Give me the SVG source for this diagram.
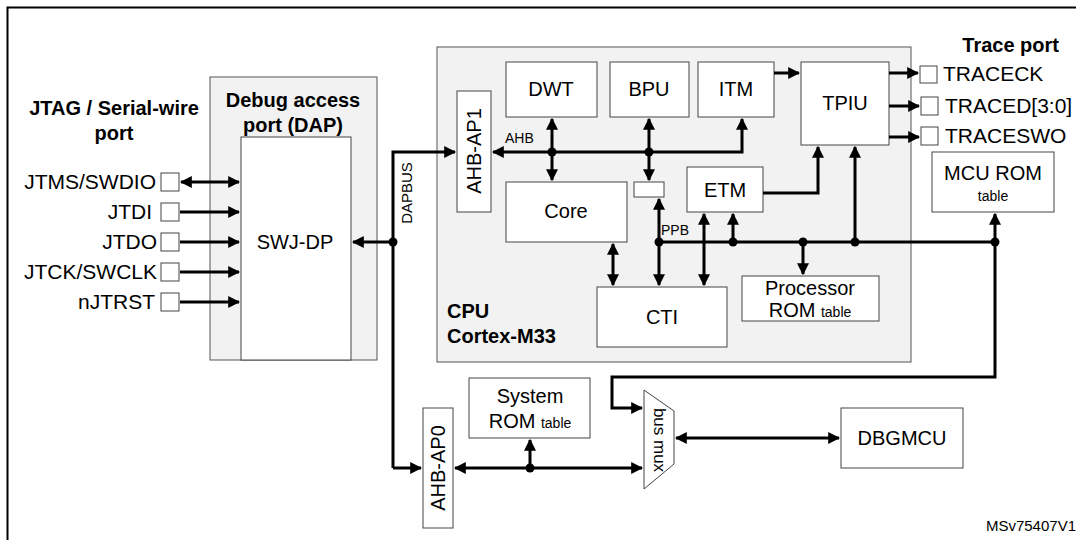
<svg xmlns="http://www.w3.org/2000/svg" width="1076" height="540" viewBox="0 0 1076 540">
<style>
text{font-family:"Liberation Sans",Arial,sans-serif;fill:#000}
.g{fill:#f2f2f2;stroke:#555;stroke-width:1}
.b{fill:#fff;stroke:#444;stroke-width:1}
.l{fill:none;stroke:#000;stroke-width:3}
.t{font-size:20px}
.p{font-size:21px}
.s{font-size:14px}
.h{font-size:20px;font-weight:bold}
</style>
<defs>
<marker id="a" viewBox="0 0 10 10" refX="9" refY="5" markerWidth="4" markerHeight="4" orient="auto-start-reverse" markerUnits="strokeWidth"><path d="M0,0L10,5L0,10z" fill="#000"/></marker>
</defs>
<rect width="1076" height="540" fill="#fff"/>
<rect x="7.5" y="7.5" width="1080" height="540" fill="none" stroke="#000" stroke-width="2"/>
<g id="dap"><rect class="g" x="210" y="77" width="167" height="283"/><text class="h" x="293" y="107" text-anchor="middle">Debug access</text><text class="h" x="293" y="132" text-anchor="middle">port (DAP)</text></g>
<g id="swjdp"><rect class="b" x="241" y="137" width="110" height="223"/><text class="t" x="295" y="249" text-anchor="middle">SWJ-DP</text></g>
<g id="cpu"><rect class="g" x="437" y="47" width="474" height="315"/><text class="h" x="447" y="318">CPU</text><text class="h" x="447" y="343">Cortex-M33</text></g>
<g id="jtag"><text class="h" x="114" y="115" text-anchor="middle">JTAG / Serial-wire</text><text class="h" x="114" y="140" text-anchor="middle">port</text>
<g class="p" text-anchor="end"><text x="156" y="189">JTMS/SWDIO</text><text x="152" y="219">JTDI</text><text x="157" y="249">JTDO</text><text x="157" y="279">JTCK/SWCLK</text><text x="155" y="309">nJTRST</text></g>
<g class="b"><rect x="161" y="173" width="18" height="18"/><rect x="161" y="203" width="18" height="18"/><rect x="161" y="233" width="18" height="18"/><rect x="161" y="263" width="18" height="18"/><rect x="161" y="293" width="18" height="18"/></g></g>
<g id="ahbap1"><rect class="b" x="457" y="91" width="34" height="121"/><text class="t" transform="translate(481,151) rotate(-90)" text-anchor="middle">AHB-AP1</text></g>
<g id="dwt"><rect class="b" x="506" y="62" width="91" height="55"/><text class="t" x="551" y="96" text-anchor="middle">DWT</text></g>
<g id="bpu"><rect class="b" x="610" y="62" width="79" height="55"/><text class="t" x="649" y="96" text-anchor="middle">BPU</text></g>
<g id="itm"><rect class="b" x="698" y="62" width="76" height="55"/><text class="t" x="736" y="96" text-anchor="middle">ITM</text></g>
<g id="tpiu"><rect class="b" x="801" y="62" width="88" height="83"/><text class="t" x="845" y="110" text-anchor="middle">TPIU</text></g>
<g id="core"><rect class="b" x="506" y="182" width="121" height="60"/><text class="t" x="566" y="218" text-anchor="middle">Core</text></g>
<g id="bridge"><rect class="b" x="634" y="182" width="30" height="15"/></g>
<g id="etm"><rect class="b" x="687" y="167" width="76" height="45"/><text class="t" x="725" y="197" text-anchor="middle">ETM</text></g>
<g id="cti"><rect class="b" x="597" y="287" width="130" height="60"/><text class="t" x="662" y="324" text-anchor="middle">CTI</text></g>
<g id="procrom"><rect class="b" x="742" y="276" width="137" height="45"/><text class="t" x="810" y="295" text-anchor="middle">Processor</text><text x="810" y="317" text-anchor="middle"><tspan class="t">ROM </tspan><tspan class="s">table</tspan></text></g>
<g id="traceport"><text class="h" x="1059" y="52" text-anchor="end">Trace port</text>
<g class="b"><rect x="920" y="66" width="17" height="17"/><rect x="921" y="97" width="17" height="18"/><rect x="921" y="127" width="17" height="18"/></g>
<g class="p"><text x="943" y="81">TRACECK</text><text x="945" y="113">TRACED[3:0]</text><text x="945" y="143">TRACESWO</text></g></g>
<g id="mcurom"><rect class="b" x="932" y="152" width="122" height="60"/><text class="t" x="993" y="180" text-anchor="middle">MCU ROM</text><text class="s" x="993" y="201" text-anchor="middle">table</text></g>
<g id="ahbap0"><rect class="b" x="423" y="408" width="30" height="120"/><text class="t" transform="translate(445,468) rotate(-90)" text-anchor="middle">AHB-AP0</text></g>
<g id="sysrom"><rect class="b" x="469" y="378" width="121" height="60"/><text class="t" x="530" y="403" text-anchor="middle">System</text><text x="530" y="428" text-anchor="middle"><tspan class="t">ROM </tspan><tspan class="s">table</tspan></text></g>
<g id="busmux"><path class="b" d="M644,390L674,411L674,464L644,489Z"/><text transform="translate(654,440) rotate(90)" text-anchor="middle" style="font-size:17px">bus mux</text></g>
<g id="dbgmcu"><rect class="b" x="841" y="408" width="122" height="60"/><text class="t" x="902" y="445" text-anchor="middle">DBGMCU</text></g>
<g id="connectors">
<path class="l" d="M181,182H239" marker-start="url(#a)" marker-end="url(#a)"/>
<path class="l" d="M180,212H239" marker-end="url(#a)"/>
<path class="l" d="M180,242H239" marker-end="url(#a)"/>
<path class="l" d="M180,272H239" marker-end="url(#a)"/>
<path class="l" d="M180,302H239" marker-end="url(#a)"/>
<path class="l" d="M393,468V152H455" marker-end="url(#a)"/>
<path class="l" d="M393,242H353" marker-end="url(#a)"/>
<path class="l" d="M393,468H421" marker-end="url(#a)"/>
<path class="l" d="M742,119V152H493" marker-start="url(#a)" marker-end="url(#a)"/>
<path class="l" d="M552,119V180" marker-start="url(#a)" marker-end="url(#a)"/>
<path class="l" d="M649,119V180" marker-start="url(#a)" marker-end="url(#a)"/>
<path class="l" d="M774,73H799" marker-end="url(#a)"/>
<path class="l" d="M889,73H918" marker-end="url(#a)"/>
<path class="l" d="M889,106H919" marker-end="url(#a)"/>
<path class="l" d="M889,137H919" marker-end="url(#a)"/>
<path class="l" d="M659,242H995"/>
<path class="l" d="M659,199V285" marker-start="url(#a)" marker-end="url(#a)"/>
<path class="l" d="M613,244V285" marker-start="url(#a)" marker-end="url(#a)"/>
<path class="l" d="M704,214V285" marker-start="url(#a)" marker-end="url(#a)"/>
<path class="l" d="M733,242V214" marker-end="url(#a)"/>
<path class="l" d="M763,193H818V147" marker-end="url(#a)"/>
<path class="l" d="M855,242V147" marker-end="url(#a)"/>
<path class="l" d="M803,242V274" marker-end="url(#a)"/>
<path class="l" d="M995,242V214" marker-end="url(#a)"/>
<path class="l" d="M995,242V377H612V408H642" marker-end="url(#a)"/>
<path class="l" d="M455,468H642" marker-start="url(#a)" marker-end="url(#a)"/>
<path class="l" d="M530,468V440" marker-end="url(#a)"/>
<path class="l" d="M676,438H839" marker-start="url(#a)" marker-end="url(#a)"/>
<g fill="#000"><circle cx="393" cy="242" r="4.5"/><circle cx="552" cy="152" r="4.5"/><circle cx="649" cy="152" r="4.5"/><circle cx="659" cy="242" r="4.5"/><circle cx="733" cy="242" r="4.5"/><circle cx="803" cy="242" r="4.5"/><circle cx="855" cy="242" r="4.5"/><circle cx="995" cy="242" r="4.5"/><circle cx="530" cy="468" r="4.5"/></g>
</g>
<text class="s" x="505" y="143">AHB</text>
<text class="s" x="661" y="235">PPB</text>
<text transform="translate(412,193) rotate(-90)" text-anchor="middle" style="font-size:15px">DAPBUS</text>
<text x="1076" y="531" text-anchor="end" style="font-size:15px">MSv75407V1</text>
</svg>
